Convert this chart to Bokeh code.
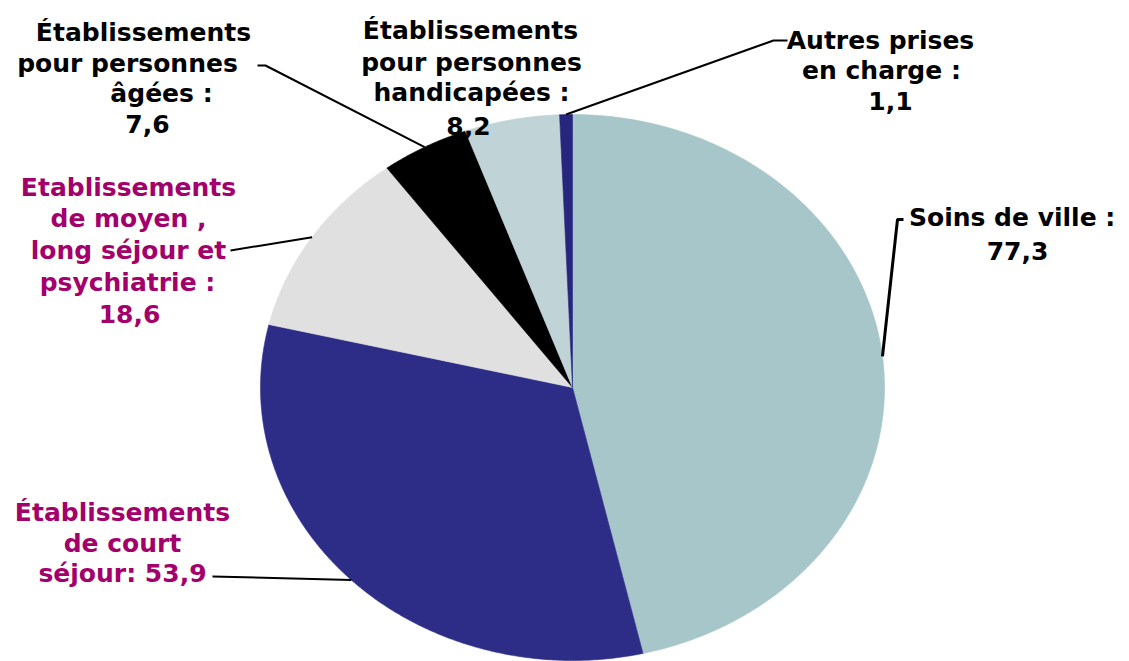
import numpy as np
from bokeh.plotting import figure
from bokeh.models import Range1d, ColumnDataSource
from bokeh.core.properties import value
from bokeh.embed import file_html
from bokeh.resources import INLINE

# ---------------- data ----------------
categories = [
    "Soins de ville",
    "Établissements de court séjour",
    "Établissements de moyen, long séjour et psychiatrie",
    "Établissements pour personnes âgées",
    "Établissements pour personnes handicapées",
    "Autres prises en charge",
]
values = [77.3, 53.9, 18.6, 7.6, 8.2, 1.1]
slice_colors = ["#A6C6C9", "#2D2D87", "#E0E0E0", "#000000", "#C0D3D6", "#26267F"]


def fr(v):
    return f"{v:.1f}".replace(".", ",")


label_lines = [
    ["Soins de ville  :", fr(values[0])],
    ["Établissements", "de court", "séjour: " + fr(values[1])],
    ["Etablissements", "de moyen ,", "long séjour et", "psychiatrie :", fr(values[2])],
    ["Établissements", "pour personnes", "âgées :", fr(values[3])],
    ["Établissements", "pour personnes", "handicapées :", fr(values[4])],
    ["Autres prises", "en charge :", fr(values[5])],
]
label_colors = ["#000000", "#A3006B", "#A3006B", "#000000", "#000000", "#000000"]

# ---------------- layout (screen pixel coordinates) ----------------
W, H = 1129, 661
CX, CY, RX, RY = 572, 387, 312, 273
label_x = [[1016, 1017], [122, 122, 122], [128, 128, 128, 127, 129],
           [143, 127, 161, 147], [470, 471, 471, 468], [880, 881, 890]]
label_y = [[217, 250], [512, 543, 573], [187, 218, 250, 282, 313],
           [32, 63, 93, 123], [30, 62, 92, 125], [40, 70, 100]]
leader_start = {0: [(903, 219), (897, 219)], 1: [(212, 576)], 2: [(230, 250)],
                3: [(257, 65), (265, 65)], 5: [(787, 40), (773, 40)]}
leader_width = {0: 3, 1: 2, 2: 2, 3: 2, 5: 2}

p = figure(width=W, height=H, output_backend="svg", toolbar_location=None,
           x_range=Range1d(0, W), y_range=Range1d(H, 0),
           x_axis_type=None, y_axis_type=None, min_border=0,
           background_fill_color="white", border_fill_color="white")
p.outline_line_color = None
p.grid.visible = False

vals = np.array(values, dtype=float)
ends = np.cumsum(vals) / vals.sum() * 2 * np.pi
starts = np.concatenate([[0.0], ends[:-1]])

xs, ys = [], []
for a0, a1 in zip(starts, ends):
    n = max(8, int((a1 - a0) / (2 * np.pi) * 720))
    t = np.linspace(a0, a1, n)
    xs.append([CX] + list(CX + RX * np.sin(t)))
    ys.append([CY] + list(CY - RY * np.cos(t)))

p.patches(xs=xs, ys=ys, fill_color=slice_colors, line_color=slice_colors, line_width=0.6)

# leader lines
for i, pts in leader_start.items():
    mid = (starts[i] + ends[i]) / 2
    ex = CX + RX * np.sin(mid)
    ey = CY - RY * np.cos(mid)
    lx = [pt[0] for pt in pts] + [ex]
    ly = [pt[1] for pt in pts] + [ey]
    p.line(lx, ly, line_color="black", line_width=leader_width[i])

# labels
tx, ty, tt, tc = [], [], [], []
for i, lines in enumerate(label_lines):
    for j, s in enumerate(lines):
        tx.append(label_x[i][j])
        ty.append(label_y[i][j])
        tt.append(s)
        tc.append(label_colors[i])
src = ColumnDataSource(dict(x=tx, y=ty, text=tt, color=tc))
p.text(x="x", y="y", text="text", source=src, text_color="color",
       text_align="center", text_baseline="alphabetic",
       text_font=value("DejaVu Sans"), text_font_style="bold",
       text_font_size="25px")

open("out.html", "w").write(file_html(p, INLINE))
